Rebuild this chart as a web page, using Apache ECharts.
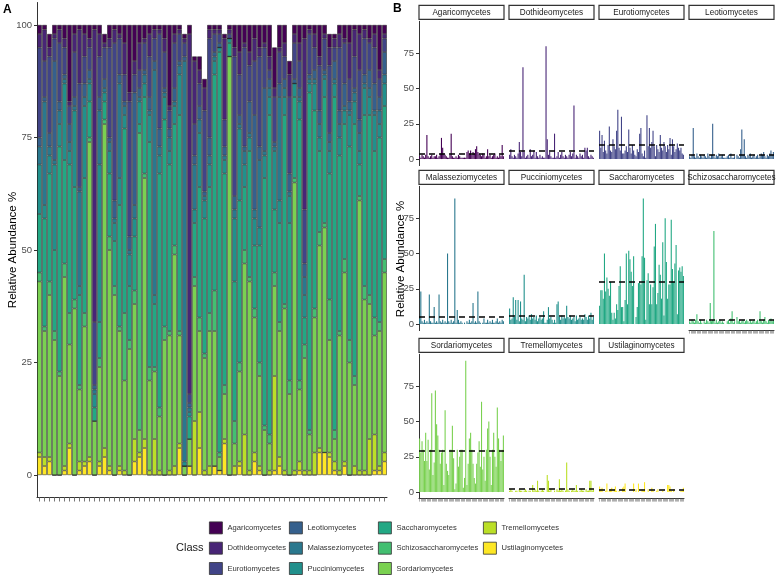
<!DOCTYPE html>
<html>
<head>
<meta charset="utf-8">
<script src="https://cdn.jsdelivr.net/npm/echarts@6/dist/echarts.min.js"></script>
<style>
  html, body { margin: 0; padding: 0; background: #fff; }
  #chart { width: 776px; height: 576px; }
</style>
</head>
<body>
<div id="chart"></div>
<script>
// classes in legend / facet order
var classes = ['Agaricomycetes', 'Dothideomycetes', 'Eurotiomycetes', 'Leotiomycetes',
  'Malasseziomycetes', 'Pucciniomycetes', 'Saccharomycetes', 'Schizosaccharomycetes',
  'Sordariomycetes', 'Tremellomycetes', 'Ustilaginomycetes'];
var classColors = ['#440154', '#482576', '#414487', '#35608D', '#2A788E', '#21908C',
  '#22A884', '#43BF71', '#7AD151', '#BBDF27', '#FDE725'];

// relative abundance (%) per sample, 70 samples
var agaricomycetes = [2,1,3,2,1,3,17,2,1,2, 3,1,2,2,3,1,2,4,15,8, 4,3,2,1,1,3,18,2,1,1, 2,1,3,2,1,1,1,1,1,5, 6,4,6,3,5,4,7,9,5,4, 3,2,4,3,1,2,7,2,3,1, 2,3,4,1,2,1,3,2,10,2];
var dothideomycetes = [3,7,2,1,3,2,1,4,12,5, 2,65,5,1,2,3,1,7,2,3, 6,1,5,2,1,3,1,2,1,1, 80,14,3,5,2,1,1,18,1,2, 5,1,3,5,2,1,3,2,1,3, 5,2,4,38,1,3,2,1,4,2, 3,1,8,6,8,2,1,3,2,1];
var eurotiomycetes = [20,8,17,5,13,6,4,10,23,6, 5,14,9,7,20,35,8,6,30,4, 4,6,9,5,21,8,4,10,6,3, 2,7,5,18,22,4,2,6,1,31, 9,22,8,12,20,9,2,10,7,5, 17,8,6,12,9,5,10,7,15,3, 14,9,5,7,11,8,6,8,4,3];
var leotiomycetes = [2,1,3,22,2,1,4,2,1,3, 2,1,3,2,1,4,2,1,3,25, 2,1,3,2,4,1,2,3,1,1, 1,2,3,1,4,1,1,2,0,3, 2,1,7,21,3,14,2,1,3,2, 4,1,2,3,1,2,3,1,2,4, 3,5,2,1,3,2,4,6,3,5];
var malasseziomycetes = [4,23,2,1,3,1,2,1,21,2, 1,1,12,1,2,1,21,2,1,3, 1,2,1,50,2,1,3,1,2,89, 1,10,3,1,2,1,0,1,0,2, 1,3,1,2,15,1,2,1,23,2, 1,0,1,4,1,1,3,1,2,1, 3,1,1,2,4,1,2,1,3,2];
var pucciniomycetes = [11,3,4,19,5,17,3,17,2,16, 4,3,35,2,5,4,6,3,7,4, 5,3,6,2,4,5,3,4,9,1, 1,3,12,4,5,3,1,3,1,14, 16,5,3,6,4,5,4,13,5,4, 6,3,4,5,2,6,3,4,5,3, 4,3,7,5,3,6,4,8,3,5];
var saccharomycetes = [13,24,24,18,50,23,33,25,20,30, 8,3,8,4,14,10,27,41,12,12, 2,17,50,14,52,46,37,27,48,0, 5,12,29,30,28,48,89,47,3,31, 36,14,28,14,26,55,71,14,22,42, 35,18,58,6,75,44,18,28,28,74, 39,30,43,56,7,38,40,37,41,34];
var schizosaccharomycetes = [2,1,3,2,1,3,7,2,1,3, 1,0,2,1,3,2,1,15,2,3, 66,1,3,1,2,3,1,2,1,0, 0,2,3,1,4,9,1,2,0,5, 2,3,1,2,3,1,2,3,2,1, 3,1,2,3,1,2,3,1,9,2, 1,3,5,2,1,3,2,4,2,3];
var sordariomycetes = [38,28,36,30,22,42,22,37,16,30, 70,12,21,72,48,40,30,20,28,30, 5,58,20,15,12,30,30,47,24,2, 6,30,18,25,30,30,3,10,93,5, 20,38,42,30,20,10,6,20,28,36, 18,64,16,25,8,30,45,50,25,5, 30,42,25,18,60,38,30,22,30,40];
var tremellomycetes = [1,2,1,0,0,1,1,0,2,1, 1,0,1,2,1,0,1,1,0,5, 1,2,1,8,1,0,1,2,1,0, 0,12,8,1,2,0,0,1,0,2, 1,9,1,2,1,0,1,21,2,1, 0,1,2,1,1,5,1,0,1,2, 1,1,0,2,1,1,8,8,1,2];
var ustilaginomycetes = [4,2,3,0,0,1,6,0,1,2, 3,0,2,4,1,0,1,0,0,3, 4,6,0,0,0,0,0,0,6,0, 2,0,6,0,0,2,1,7,0,0, 2,0,0,3,1,0,0,1,2,0, 0,0,1,0,0,0,5,5,4,1, 0,2,0,0,0,0,0,1,1,3];

var ticksA = [0, 25, 50, 75, 100];
var ticksB = [0, 25, 50, 75];

var classData = [agaricomycetes, dothideomycetes, eurotiomycetes, leotiomycetes,
  malasseziomycetes, pucciniomycetes, saccharomycetes, schizosaccharomycetes,
  sordariomycetes, tremellomycetes, ustilaginomycetes];
var samples = agaricomycetes.map(function (v, i) { return 'S' + (i + 1); });

var FONT = '"Liberation Sans", Arial, sans-serif';
var axisColor = '#333';
var tickColor = '#777';

var grids = [], xAxes = [], yAxes = [], series = [], graphics = [];

// ---- panel A : stacked composition
grids.push({ left: 37, top: 2.5, width: 350, height: 495 });
xAxes.push({
  type: 'category', gridIndex: 0, data: samples,
  axisLine: { show: true, onZero: false, lineStyle: { color: axisColor, width: 1 } },
  axisTick: { show: true, alignWithLabel: true, interval: 0, length: 4, lineStyle: { color: tickColor, width: 1 } },
  axisLabel: { show: false }
});
yAxes.push({
  type: 'value', gridIndex: 0, min: -5, max: 105,
  splitLine: { show: false },
  axisLine: { show: true, lineStyle: { color: axisColor, width: 1 } },
  axisTick: { show: true, length: 3, customValues: ticksA, lineStyle: { color: axisColor } },
  axisLabel: { customValues: ticksA, color: '#4d4d4d', fontSize: 9.5, margin: 5, fontFamily: FONT }
});
for (var k = classes.length - 1; k >= 0; k--) {
  series.push({
    name: classes[k], type: 'bar', stack: 'A', xAxisIndex: 0, yAxisIndex: 0,
    barWidth: '90%', data: classData[k],
    itemStyle: { color: classColors[k], borderColor: '#1a1a1a', borderWidth: 0.5 },
    emphasis: { disabled: true }
  });
}

// ---- panel B : one facet per class
var maxB = 0;
classData.forEach(function (arr) { arr.forEach(function (v) { if (v > maxB) maxB = v; }); });
var bMin = -0.05 * maxB, bMax = 1.05 * maxB;
var rowTops = [21.3, 186.3, 354.3], rowH = 144.3;
var colLeft = 419, colStep = 90, colW = 85;

classes.forEach(function (name, k) {
  var r = Math.floor(k / 4), c = k % 4, gi = k + 1;
  var showX = (k + 4 >= classes.length);
  var left = colLeft + c * colStep, top = rowTops[r];
  grids.push({ left: left, top: top, width: colW, height: rowH });
  xAxes.push({
    type: 'category', gridIndex: gi, data: samples,
    axisLine: { show: showX, onZero: false, lineStyle: { color: axisColor, width: 1 } },
    axisTick: { show: showX, alignWithLabel: true, interval: 0, length: 3, lineStyle: { color: tickColor, width: 0.6 } },
    axisLabel: { show: false }
  });
  yAxes.push({
    type: 'value', gridIndex: gi, min: bMin, max: bMax,
    splitLine: { show: false },
    axisLine: { show: c === 0, lineStyle: { color: axisColor, width: 1 } },
    axisTick: { show: c === 0, length: 3, customValues: ticksB, lineStyle: { color: axisColor } },
    axisLabel: { show: c === 0, customValues: ticksB, color: '#4d4d4d', fontSize: 9.5, margin: 5, fontFamily: FONT }
  });
  var arr = classData[k];
  var mean = arr.reduce(function (a, b) { return a + b; }, 0) / arr.length;
  series.push({
    name: name, type: 'bar', xAxisIndex: gi, yAxisIndex: gi,
    barWidth: '90%', data: arr,
    itemStyle: { color: classColors[k] },
    emphasis: { disabled: true },
    markLine: {
      silent: true, symbol: ['none', 'none'], label: { show: false },
      lineStyle: { color: '#000', type: [6, 4], width: 1.6 },
      data: [{ yAxis: mean }]
    }
  });
  // facet strip
  graphics.push({
    type: 'rect', shape: { x: left, y: top - 16, width: colW, height: 14 },
    style: { fill: '#fff', stroke: '#333', lineWidth: 1.2 }
  });
  graphics.push({
    type: 'text', x: left + colW / 2, y: top - 9,
    style: { text: name, fontSize: 8.2, fontFamily: FONT, fill: '#1a1a1a', align: 'center', verticalAlign: 'middle' }
  });
});

// titles and panel tags
graphics.push({
  type: 'text', x: 13, y: 250, rotation: Math.PI / 2,
  style: { text: 'Relative Abundance %', fontSize: 11.5, fontFamily: FONT, fill: '#000', align: 'center', verticalAlign: 'middle' }
});
graphics.push({
  type: 'text', x: 401, y: 259, rotation: Math.PI / 2,
  style: { text: 'Relative Abundance %', fontSize: 11.5, fontFamily: FONT, fill: '#000', align: 'center', verticalAlign: 'middle' }
});
graphics.push({ type: 'text', x: 3, y: 4, style: { text: 'A', fontSize: 12, fontWeight: 'bold', fontFamily: FONT, fill: '#000' } });
graphics.push({ type: 'text', x: 393, y: 3, style: { text: 'B', fontSize: 12, fontWeight: 'bold', fontFamily: FONT, fill: '#000' } });
graphics.push({
  type: 'text', x: 176, y: 548,
  style: { text: 'Class', fontSize: 11, fontFamily: FONT, fill: '#1a1a1a', verticalAlign: 'middle' }
});

// legend: 4 columns, 3 rows, filled column-wise
var legendLefts = [209, 289, 378, 483];
var legends = legendLefts.map(function (x, j) {
  return {
    orient: 'vertical', left: x, top: 521.5, padding: 0,
    data: classes.slice(j * 3, j * 3 + 3),
    icon: 'rect', itemWidth: 13, itemHeight: 12, itemGap: 7.5,
    selectedMode: false,
    itemStyle: { borderColor: '#333', borderWidth: 0.8 },
    textStyle: { fontSize: 7.6, color: '#333', fontFamily: FONT }
  };
});

var myChart = echarts.init(document.getElementById('chart'));
myChart.setOption({
  animation: false,
  backgroundColor: '#fff',
  textStyle: { fontFamily: FONT },
  grid: grids,
  xAxis: xAxes,
  yAxis: yAxes,
  legend: legends,
  series: series,
  graphic: graphics
});
</script>
</body>
</html>
